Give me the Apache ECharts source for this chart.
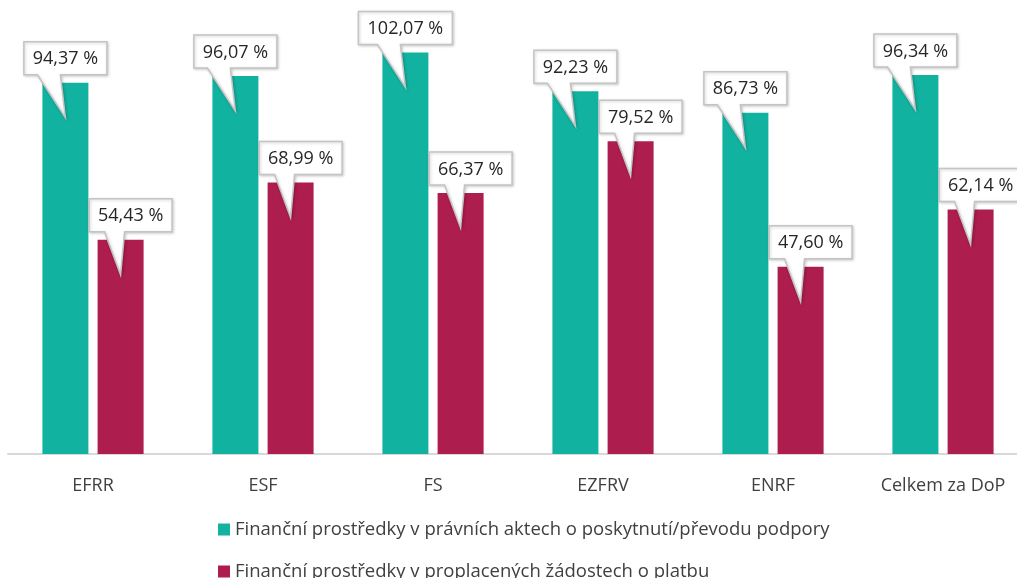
<!DOCTYPE html>
<html>
<head>
<meta charset="utf-8">
<script src="https://cdn.jsdelivr.net/npm/echarts@6/dist/echarts.min.js"></script>
<style>
  html, body { margin: 0; padding: 0; background: #fff; }
  #chart { width: 1017px; height: 578px; }
</style>
</head>
<body>
<div id="chart"></div>
<script>
// data
var categories = ['EFRR', 'ESF', 'FS', 'EZFRV', 'ENRF', 'Celkem za DoP'];
var seriesNames = [
  'Finanční prostředky v právních aktech o poskytnutí/převodu podpory',
  'Finanční prostředky v proplacených žádostech o platbu'
];
var pravniAkty = [94.37, 96.07, 102.07, 92.23, 86.73, 96.34];
var proplaceno = [54.43, 68.99, 66.37, 79.52, 47.60, 62.14];

var colors = ['#12B2A0', '#AD1D4E'];
var FONT = '"Open Sans", "Noto Sans", sans-serif';
var BAR_W = 46;
var BAR_GAP = 0.2;

var measureCtx = document.createElement('canvas').getContext('2d');
function textWidth(txt) {
  measureCtx.font = '18px ' + FONT;
  return measureCtx.measureText(txt).width;
}

function fmt(v) {
  return v.toFixed(2).replace('.', ',') + ' %';
}

// callout label drawn as custom series on top of the bars
function callout(values, side, boxShift, baseL, baseR) {
  var dx = side * (BAR_W + BAR_W * BAR_GAP) / 2;
  return {
    type: 'custom',
    z: 10,
    silent: true,
    clip: false,
    encode: { x: 0, y: 1 },
    data: values.map(function (v, i) { return [i, v]; }),
    renderItem: function (params, api) {
      var p = api.coord([api.value(0), api.value(1)]);
      var bx = p[0] + dx, by = p[1];
      var txt = fmt(api.value(1));
      var w = Math.round(textWidth(txt)) + 18;
      var cx = bx + boxShift;
      var l = cx - w / 2, r = cx + w / 2, t = by - 41, b = by - 8;
      var pts = [[l, t], [r, t], [r, b], [bx + baseR, b], [bx, by + 35], [bx + baseL, b], [l, b]];
      return {
        type: 'group',
        children: [
          {
            type: 'polygon',
            shape: { points: pts },
            style: {
              fill: '#fff', stroke: '#C4C4C4', lineWidth: 1.5,
              shadowColor: 'rgba(0,0,0,0.18)', shadowBlur: 3, shadowOffsetX: 1, shadowOffsetY: 1
            }
          },
          {
            type: 'text',
            style: {
              text: txt, x: cx, y: (t + b) / 2 + 1,
              align: 'center', verticalAlign: 'middle',
              font: '18px ' + FONT, fill: '#262626'
            }
          }
        ]
      };
    }
  };
}

function legendRow(name, top) {
  return {
    data: [name],
    left: 213,
    top: top,
    icon: 'rect',
    itemWidth: 12,
    itemHeight: 12,
    textStyle: { fontFamily: FONT, fontSize: 18.5, color: '#404040' }
  };
}

var chart = echarts.init(document.getElementById('chart'));
chart.setOption({
  animation: false,
  color: colors,
  grid: { left: 8, width: 1020, top: 0, bottom: 124, outerBoundsMode: 'none' },
  legend: [legendRow(seriesNames[0], 515), legendRow(seriesNames[1], 557)],
  xAxis: {
    type: 'category',
    data: categories,
    axisTick: { show: false },
    axisLine: { lineStyle: { color: '#D9D9D9', width: 2 } },
    axisLabel: { fontFamily: FONT, fontSize: 18, color: '#404040', margin: 23 }
  },
  yAxis: {
    type: 'value',
    min: 0,
    max: 115.4,
    show: false,
    splitLine: { show: false }
  },
  series: [
    { name: seriesNames[0], type: 'bar', data: pravniAkty, barWidth: BAR_W, barGap: '20%' },
    { name: seriesNames[1], type: 'bar', data: proplaceno, barWidth: BAR_W, barGap: '20%' },
    callout(pravniAkty, -1, 0, -28, -5),
    callout(proplaceno, 1, 10, -16, 4)
  ]
});
</script>
</body>
</html>
